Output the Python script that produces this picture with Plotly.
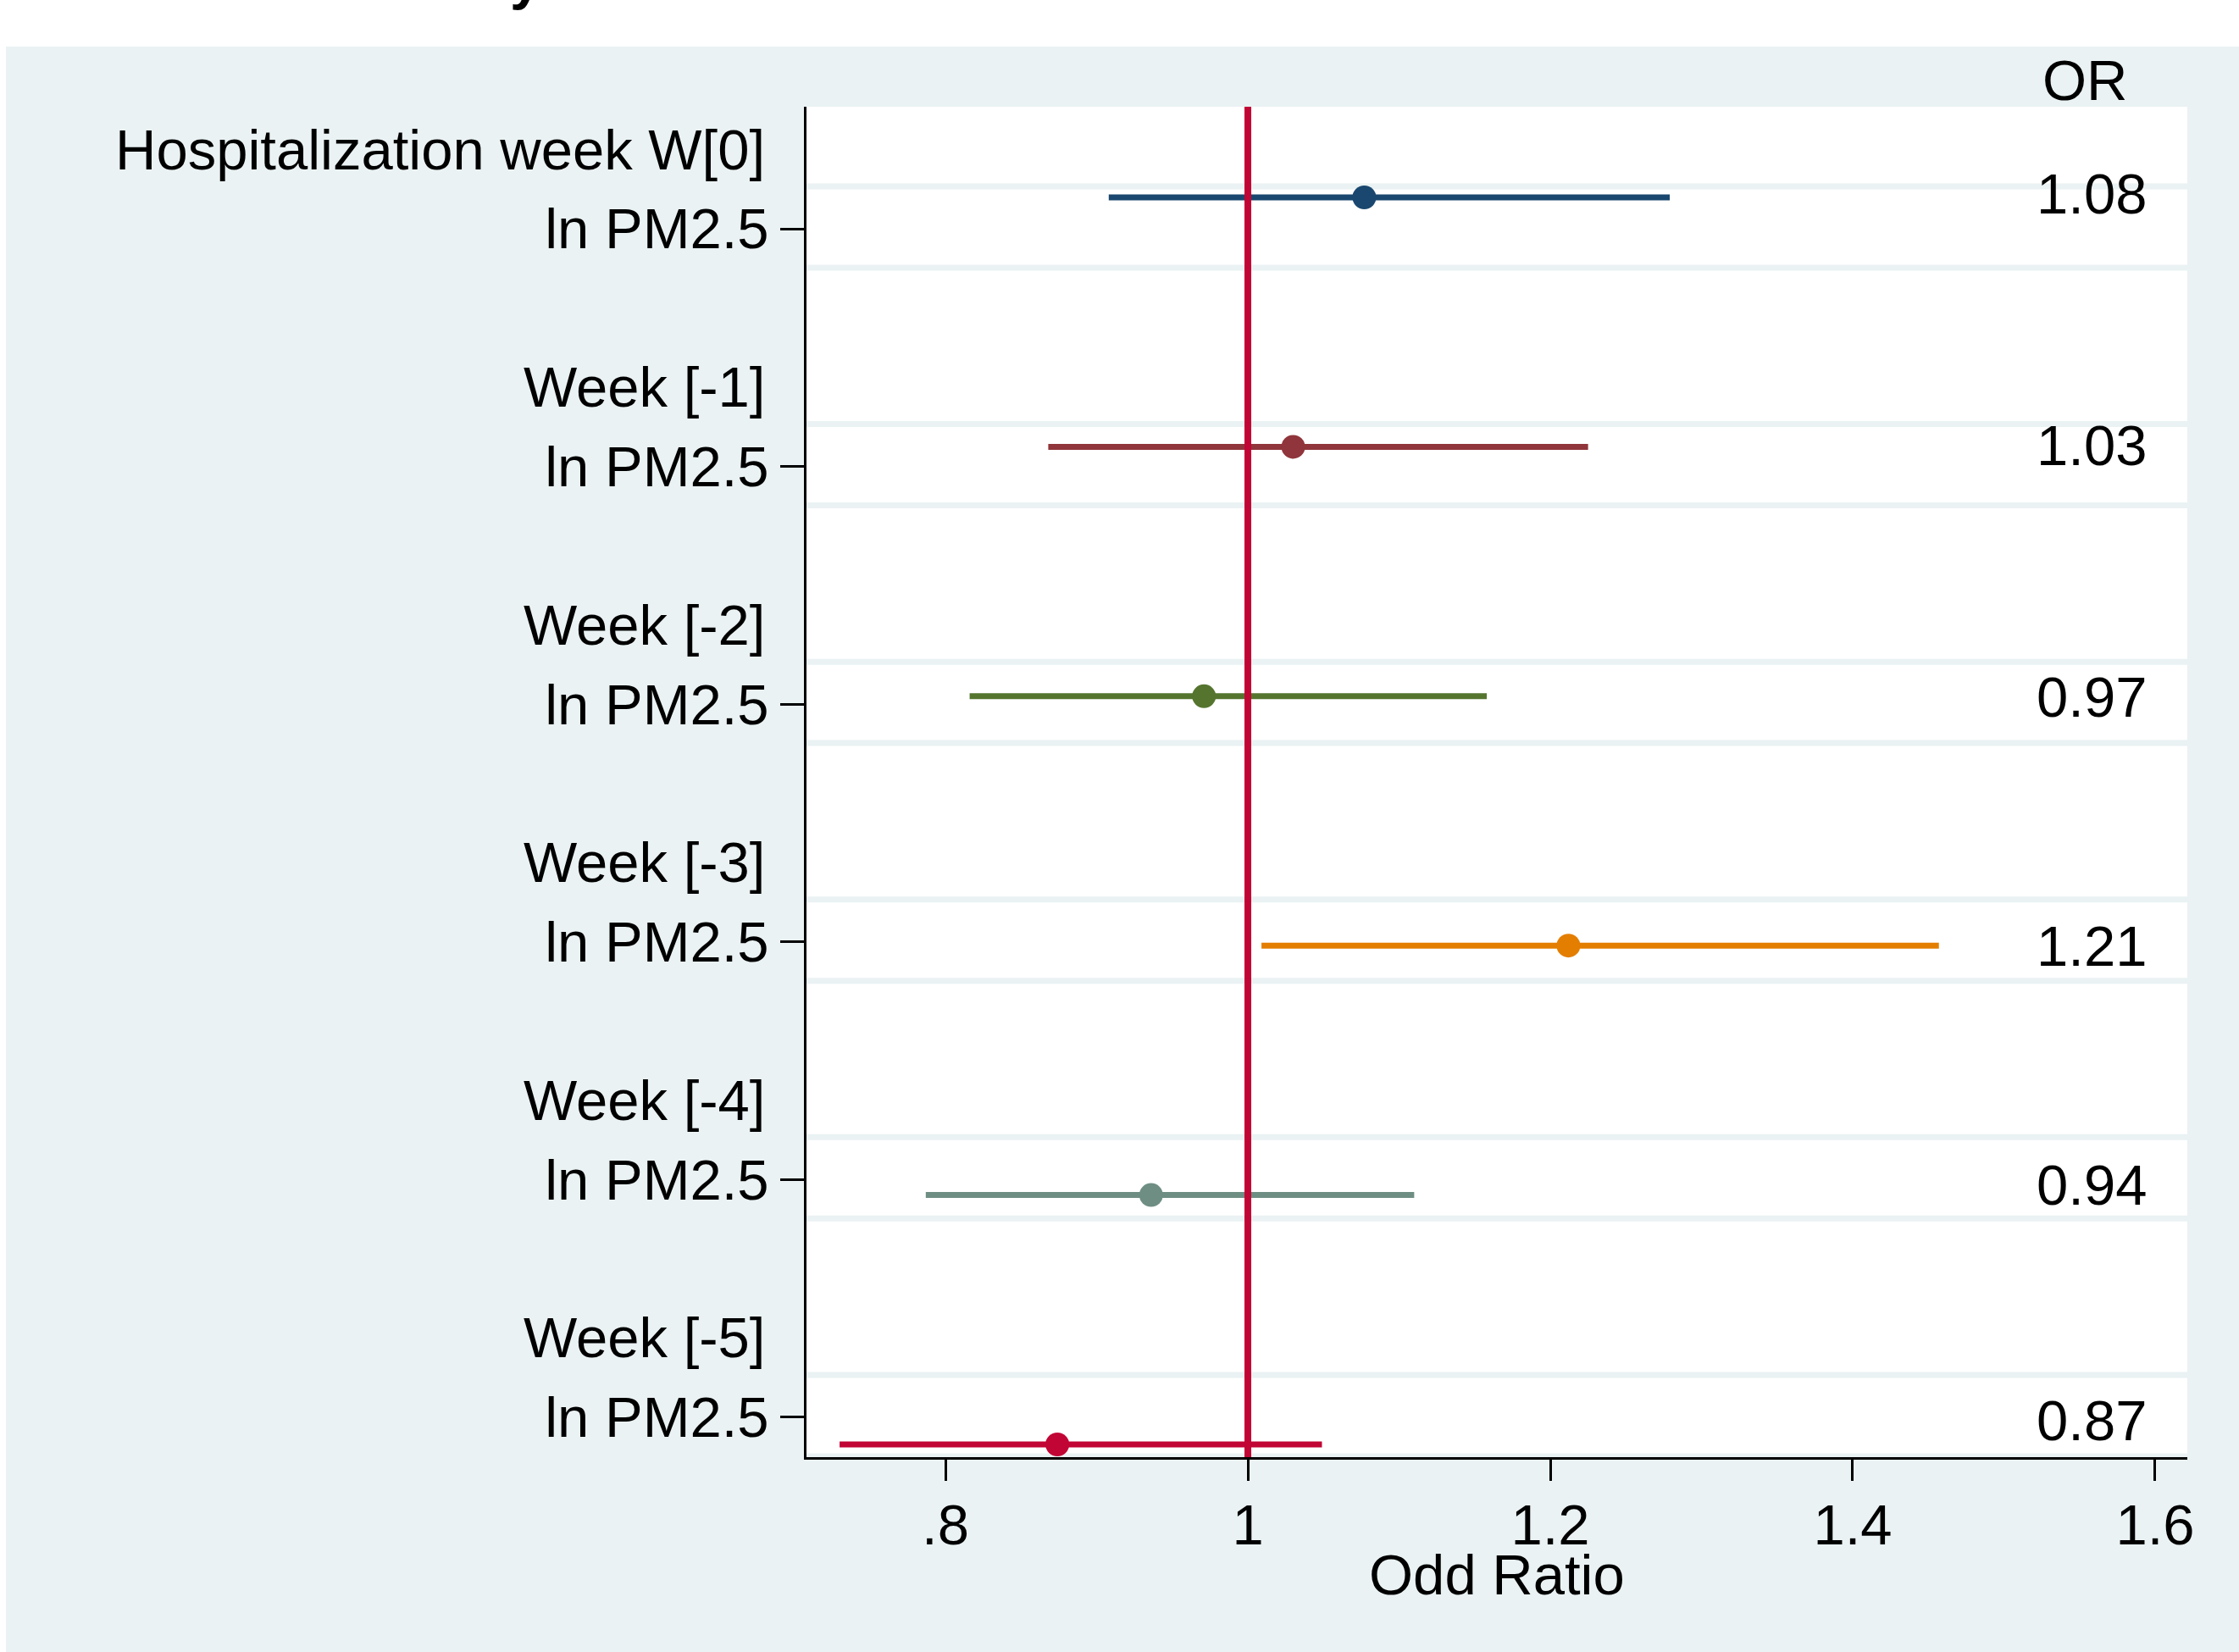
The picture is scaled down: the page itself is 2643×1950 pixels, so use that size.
import plotly.graph_objects as go

# ---------------- data ----------------
row_headers = ["Hospitalization week W[0]", "Week [-1]", "Week [-2]",
               "Week [-3]", "Week [-4]", "Week [-5]"]
exposure_labels = ["ln PM2.5", "ln PM2.5", "ln PM2.5",
                   "ln PM2.5", "ln PM2.5", "ln PM2.5"]
or_estimate = [1.077, 1.030, 0.971, 1.212, 0.936, 0.874]
ci_lower = [0.908, 0.868, 0.816, 1.009, 0.787, 0.730]
ci_upper = [1.279, 1.225, 1.158, 1.457, 1.110, 1.049]
or_text = ["1.08", "1.03", "0.97", "1.21", "0.94", "0.87"]
x_tickvals = [0.8, 1.0, 1.2, 1.4, 1.6]
x_ticktext = [".8", "1", "1.2", "1.4", "1.6"]

# ---------------- styles / layout constants ----------------
colors = ["#1A476F", "#90353B", "#55752F", "#E37E00", "#6E8E84", "#C10534"]
BG = "rgb(234,242,243)"
FONT = "Liberation Sans, Arial, Helvetica, sans-serif"
FS = 67
W, H = 2643, 1950
ML, MR, MT, MB = 952, 61, 126, 230
PW = W - ML - MR
PH = H - MT - MB

TICK_OFFSET = 0.1257   # label tick position relative to row (data units)
TICK_STEP = 0.9531
BAND_UP = 0.170
BAND_DN = 0.156
OR_LABEL_NUDGE = [5, 2, -1, 0, 12, 28]   # px, upward shift of the OR labels

n = len(row_headers)
rows = list(range(n))
tick_pos = [TICK_OFFSET + TICK_STEP * i for i in rows]

fig = go.Figure()
for i in rows:
    fig.add_trace(go.Scatter(
        x=[or_estimate[i]], y=[i], mode="markers",
        marker=dict(size=28, color=colors[i], line=dict(width=0)),
        error_x=dict(type="data", symmetric=False,
                     array=[ci_upper[i] - or_estimate[i]],
                     arrayminus=[or_estimate[i] - ci_lower[i]],
                     color=colors[i], thickness=7, width=0),
        showlegend=False, hoverinfo="skip"))

shapes = []
# white strip at top and left of the page
shapes.append(dict(type="rect", xref="paper", yref="paper",
                   x0=-1, x1=2, y0=1 + (MT - 55) / PH, y1=2,
                   fillcolor="white", line=dict(width=0), layer="below"))
shapes.append(dict(type="rect", xref="paper", yref="paper",
                   x0=-1, x1=(7 - ML) / PW, y0=-1, y1=2,
                   fillcolor="white", line=dict(width=0), layer="below"))
# row bands
for t in tick_pos:
    for yy in (t - BAND_UP, t + BAND_DN):
        shapes.append(dict(type="line", xref="paper", yref="y",
                           x0=0, x1=1, y0=yy, y1=yy,
                           line=dict(color=BG, width=7), layer="below"))
# reference line at OR = 1
shapes.append(dict(type="line", xref="x", yref="paper", x0=1, x1=1, y0=0, y1=1,
                   line=dict(color="#C10534", width=8), layer="above"))

annotations = []
for i in rows:
    annotations.append(dict(text=row_headers[i], xref="paper", yref="y",
                            x=0, y=tick_pos[i], xanchor="right", yanchor="middle",
                            xshift=-47, yshift=94, showarrow=False,
                            font=dict(family=FONT, size=FS, color="black")))
    annotations.append(dict(text=or_text[i], xref="paper", yref="y",
                            x=(2536 - ML) / PW, y=i, xanchor="right", yanchor="middle",
                            yshift=OR_LABEL_NUDGE[i], showarrow=False,
                            font=dict(family=FONT, size=FS, color="black")))
annotations.append(dict(text="OR", xref="paper", yref="paper",
                        x=(2461 - ML) / PW, y=1 + (MT - 95) / PH,
                        xanchor="center", yanchor="middle", showarrow=False,
                        font=dict(family=FONT, size=FS, color="black")))
annotations.append(dict(text="Odd Ratio", xref="paper", yref="paper",
                        x=0.5, y=0, yshift=-138, xanchor="center", yanchor="middle",
                        showarrow=False,
                        font=dict(family=FONT, size=FS, color="black")))
# descender of the cut-off title above the graph
annotations.append(dict(text="<b>y</b>", xref="paper", yref="paper",
                        x=(620 - ML) / PW, y=1 + MT / PH, yshift=-14,
                        xanchor="center", yanchor="bottom", showarrow=False,
                        font=dict(family=FONT, size=FS, color="black")))

fig.update_layout(
    width=W, height=H, autosize=False,
    margin=dict(l=ML, r=MR, t=MT, b=MB, pad=0),
    paper_bgcolor=BG, plot_bgcolor="white",
    font=dict(family=FONT, size=FS, color="black"),
    shapes=shapes, annotations=annotations,
    xaxis=dict(range=[0.7081, 1.6213], tickvals=x_tickvals, ticktext=x_ticktext,
               showgrid=False, zeroline=False, showline=True, linecolor="black",
               linewidth=3, ticks="outside", ticklen=25, tickwidth=3,
               ticklabelstandoff=-5,
               tickcolor="black", tickfont=dict(family=FONT, size=FS, color="black")),
    yaxis=dict(range=[5.051, -0.3635], tickvals=tick_pos, ticktext=exposure_labels,
               showgrid=False, zeroline=False, showline=True, linecolor="black",
               linewidth=3, ticks="outside", ticklen=28, tickwidth=3,
               tickcolor="black", tickfont=dict(family=FONT, size=FS, color="black")),
)

fig.write_html("out.html", config={"displayModeBar": False},
               post_script="document.body.style.margin='0px';document.body.style.overflow='hidden';")
